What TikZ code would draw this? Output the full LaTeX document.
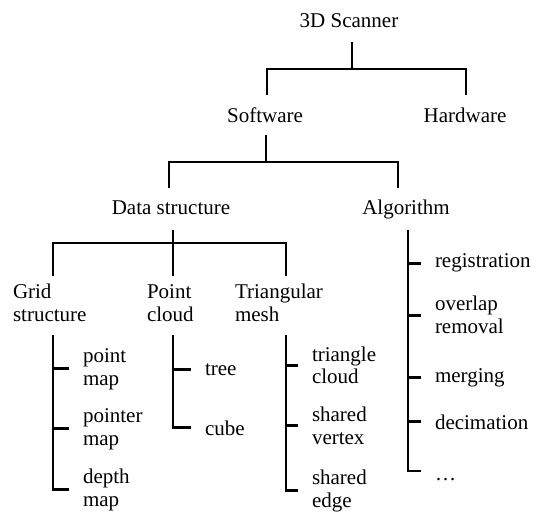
\documentclass[tikz,border=0pt]{standalone}
\usepackage{fontspec}
\setmainfont{Liberation Serif}
\begin{document}
\begin{tikzpicture}[x=1pt,y=-1pt,
  lbl/.style={inner sep=0pt,outer sep=0pt,font=\fontsize{21}{23}\selectfont,align=left},
  conn/.style={line width=2.8pt,black}]
\useasboundingbox (0,0) rectangle (536,513);
% top levels
\node[lbl,anchor=base] (root) at (349,28) {3D Scanner};
\node[lbl,anchor=base] (sw) at (265,123) {Software};
\node[lbl,anchor=base] (hw) at (465,123) {Hardware};
\node[lbl,anchor=base] (ds) at (171,215) {Data structure};
\node[lbl,anchor=base] (alg) at (406,215) {Algorithm};
% data structure children (base = last line)
\node[lbl,anchor=base west] (grid) at (13,322) {Grid\\structure};
\node[lbl,anchor=base west] (pc) at (147,322) {Point\\cloud};
\node[lbl,anchor=base west] (tm) at (235,322) {Triangular\\mesh};
% grid children
\node[lbl,anchor=base west] (pm) at (83,385) {point\\map};
\node[lbl,anchor=base west] (ptm) at (83,445) {pointer\\map};
\node[lbl,anchor=base west] (dm) at (83,506) {depth\\map};
% point cloud children
\node[lbl,anchor=base west] (tree) at (205,375) {tree};
\node[lbl,anchor=base west] (cube) at (205,435) {cube};
% triangular mesh children
\node[lbl,anchor=base west] (tc) at (312,384) {triangle\\cloud};
\node[lbl,anchor=base west] (sv) at (312,444) {shared\\vertex};
\node[lbl,anchor=base west] (se) at (312,507) {shared\\edge};
% algorithm children
\node[lbl,anchor=base west] (reg) at (435,268) {registration};
\node[lbl,anchor=base west] (ovr) at (435,334) {overlap\\removal};
\node[lbl,anchor=base west] (mer) at (435,382) {merging};
\node[lbl,anchor=base west] (dec) at (435,429) {decimation};
\node[lbl,anchor=base west] (dots) at (435,480) {…};
% level 1
\draw[conn] ([shift={(3,14)}]root.base) -- ++(0,27);
\draw[conn] ([shift={(2,-28)}]sw.base) -- ++(0,-26) -| ([shift={(1,-28)}]hw.base);
% level 2
\draw[conn] ([shift={(1,12)}]sw.base) -- ++(0,27);
\draw[conn] ([shift={(-2,-27)}]ds.base) -- ++(0,-26) -| ([shift={(-8,-27)}]alg.base);
% level 3
\draw[conn] ([shift={(2,15)}]ds.base) -- ([shift={(26,-46)}]pc.base west);
\draw[conn] ([shift={(40,-46)}]grid.base west) -- ++(0,-33) -| ([shift={(51,-46)}]tm.base west);
% trunks
\coordinate (gtop) at ([shift={(40,13)}]grid.base west);
\coordinate (ptop) at ([shift={(26,13)}]pc.base west);
\coordinate (ttop) at ([shift={(51,13)}]tm.base west);
\coordinate (atop) at ([shift={(2,15)}]alg.base);
\draw[conn] (gtop) |- ([xshift=-14pt]dm.west);
\draw[conn] (gtop |- pm.west) -- ([xshift=-14pt]pm.west);
\draw[conn] (gtop |- ptm.west) -- ([xshift=-14pt]ptm.west);
\draw[conn] (ptop) |- ([xshift=-14pt]cube.west);
\draw[conn] (ptop |- tree.west) -- ([xshift=-14pt]tree.west);
\draw[conn] (ttop) |- ([xshift=-14pt]se.west);
\draw[conn] (ttop |- tc.west) -- ([xshift=-14pt]tc.west);
\draw[conn] (ttop |- sv.west) -- ([xshift=-14pt]sv.west);
\draw[conn] (atop) |- ([shift={(-14,-8)}]dots.west);
\draw[conn] (atop |- reg.west) -- ([xshift=-14pt]reg.west);
\draw[conn] (atop |- ovr.west) -- ([xshift=-14pt]ovr.west);
\draw[conn] (atop |- mer.west) -- ([xshift=-14pt]mer.west);
\draw[conn] (atop |- dec.west) -- ([xshift=-14pt]dec.west);
\end{tikzpicture}
\end{document}
